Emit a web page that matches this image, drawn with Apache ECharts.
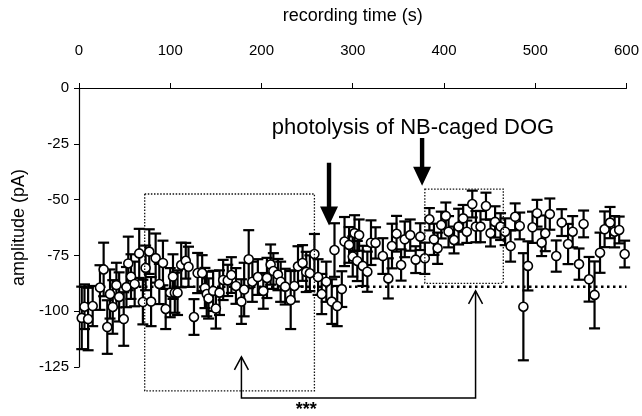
<!DOCTYPE html>
<html><head><meta charset="utf-8">
<script src="https://cdn.jsdelivr.net/npm/echarts@6/dist/echarts.min.js"></script>
<style>html,body{margin:0;padding:0;background:#fff}#c{width:642px;height:416px}</style>
</head><body><div id="c"></div>
<script>
const times = [3,6,10,15,23,27,31,34,37,41,44,49,52,54,57,61,66,70,73,77,79,84,88,92,95,100,103,105,108,112,117,120,126,130,135,138,140,142,147,150,154,158,163,167,172,178,181,186,190,196,202,206,210,213,218,221,226,232,236,240,245,249,253,258,262,266,271,277,280,283,288,291,296,300,302,305,307,311,316,320,325,333,339,343,348,353,357,363,369,374,379,384,389,393,397,402,405,411,416,421,425,431,435,440,446,451,456,462,467,473,478,483,487,492,497,502,507,511,516,523,529,536,541,548,553,559,565,571,576,582,587,592,598];
const amps = [-103,-98,-103.5,-97.7,-89.4,-81.3,-107.1,-92.3,-98.1,-88.3,-93.6,-103.5,-89.2,-78.6,-84.5,-87.8,-74.1,-95.9,-80.6,-73.3,
-95.7,-76.2,-87.8,-78.4,-99,-91.7,-84.5,-91.7,-91.7,-79.3,-77.4,-80.1,-102.6,-82.9,-82.9,-89.6,-92.3,-94.3,-90.9,-98.8,
-91.7,-86,-86.2,-83.8,-88.7,-95.7,-90.3,-76.7,-86.8,-84.7,-90.9,-85.1,-79.1,-82,-83.6,-86.8,-89,-95,-88.7,-79.9,
-78.4,-82.4,-83,-74.4,-84.7,-92.3,-86.8,-95.7,-72.6,-97.7,-90.1,-68.8,-70.3,-75.5,-65,-77.5,-65.9,-79.7,-82.3,-69.3,
-69.4,-75.3,-85.3,-70.8,-65.3,-79.3,-67.8,-65.9,-76.9,-66.6,-76.3,-58.8,-67.8,-71.8,-61.4,-57.3,-64.4,-68.1,-62.1,-58.4,
-64.4,-52,-62.1,-62.1,-52.9,-65,-60,-62.1,-64.4,-70.8,-57.7,-61.8,-98,-79.7,-62.4,-56.1,-69.3,-65.1,-56.5,-75.3,
-60.3,-69.9,-64.4,-78.9,-60.9,-85.7,-92.7,-73.8,-63.3,-60.3,-64.4,-63.6,-74.4];
const errs = [14,10,14,9,10,12,12,11,12,10,11,12,9,12,10,10,11,10,10,10,
11,11,9,10,9,11,10,9,10,10,8,9,8,9,8,9,10,9,9,9,
10,9,7,8,8,10,12,13,9,8,8,9,9,8,7,9,8,13,7,9,
8,9,8,9,8,9,9,10,12,9,8,11,8,9,8,9,7,9,9,10,
7,8,9,10,8,7,8,7,6,6,7,5,7,7,6,6,7,6,8,6,
5,6,7,7,6,6,7,6,6,7,6,6,24,11,7,6,6,8,7,7,
6,9,7,7,6,10,15,9,8,7,7,6,6];
const xTickValues = [0,100,200,300,400,500,600];
const yTickValues = [0,-25,-50,-75,-100,-125];
const baselineLevel = -89;

const FONT = '"Liberation Sans", Arial, Helvetica, sans-serif';
const chart = echarts.init(document.getElementById('c'), null, {renderer:'canvas'});
const pts = times.map((t,i)=>[t, amps[i], errs[i]]);

chart.setOption({
  animation:false,
  backgroundColor:'#fff',
  grid:{left:79, right:14, top:88, bottom:49},
  xAxis:{type:'value', position:'top', min:xTickValues[0], max:xTickValues[xTickValues.length-1], interval:100,
    axisLine:{onZero:false, lineStyle:{color:'#000', width:1.2}},
    axisTick:{show:true, length:5, lineStyle:{color:'#000'}},
    axisLabel:{color:'#000', fontSize:15, margin:30, fontFamily:FONT},
    splitLine:{show:false}, splitArea:{show:false}, minorTick:{show:false}, minorSplitLine:{show:false},
    name:'recording time (s)', nameLocation:'middle', nameGap:63,
    nameTextStyle:{color:'#000', fontSize:18, fontFamily:FONT}},
  yAxis:{type:'value', min:yTickValues[yTickValues.length-1], max:yTickValues[0], interval:25,
    axisLine:{show:true, onZero:false, lineStyle:{color:'#000', width:1.2}},
    axisTick:{show:true, length:5, lineStyle:{color:'#000'}},
    axisLabel:{color:'#000', fontSize:15, margin:10, fontFamily:FONT},
    splitLine:{show:false}, splitArea:{show:false},
    name:'amplitude (pA)', nameLocation:'middle', nameGap:47, nameRotate:90,
    nameTextStyle:{color:'#000', fontSize:18, fontFamily:FONT}},
  series:[
    {type:'line', data:[[xTickValues[0], baselineLevel],[xTickValues[xTickValues.length-1], baselineLevel]],
      symbol:'none', silent:true, z:1,
      lineStyle:{color:'#000', width:2.5, type:[2.5,3.5]}},
    {type:'custom', z:2, clip:false, data:pts,
      renderItem:function(params, api){
        const x=api.value(0), y=api.value(1), e=api.value(2);
        const top=api.coord([x,y+e]), bot=api.coord([x,y-e]);
        const w=5.5;
        const st={stroke:'#000', lineWidth:2.2};
        return {type:'group', children:[
          {type:'line', shape:{x1:top[0],y1:top[1],x2:bot[0],y2:bot[1]}, style:st},
          {type:'line', shape:{x1:top[0]-w,y1:top[1],x2:top[0]+w,y2:top[1]}, style:st},
          {type:'line', shape:{x1:bot[0]-w,y1:bot[1],x2:bot[0]+w,y2:bot[1]}, style:st}
        ]};
      }},
    {type:'scatter', z:3, data:pts.map(p=>[p[0],p[1]]), symbol:'circle', symbolSize:9,
      itemStyle:{color:'#fff', borderColor:'#000', borderWidth:1.6, opacity:1}}
  ]
});

function P(t,v){ return chart.convertToPixel({gridIndex:0},[t,v]); }
function rectG(t1,t2,v1,v2){
  const a=P(t1,v1), b=P(t2,v2);
  return {type:'rect', shape:{x:Math.min(a[0],b[0]), y:Math.min(a[1],b[1]), width:Math.abs(b[0]-a[0]), height:Math.abs(b[1]-a[1])},
    style:{fill:'none', stroke:'#111', lineWidth:1.3, lineDash:[1.5,1.6]}, z:10};
}
function boldArrow(t,vTop,vTip){
  const a=P(t,vTop), b=P(t,vTip);
  const hh=19, hw=9, sw=2.2;
  return {type:'polygon', shape:{points:[[a[0]-sw,a[1]],[a[0]+sw,a[1]],[a[0]+sw,b[1]-hh],[a[0]+hw,b[1]-hh],[a[0],b[1]],[a[0]-hw,b[1]-hh],[a[0]-sw,b[1]-hh]]},
    style:{fill:'#000'}, z:10};
}
const c1=P(178,-120.5), c2=P(178,-138.9), c3=P(434.6,-138.9), c4=P(434.6,-90.9);
const ls={stroke:'#000', lineWidth:1.5, fill:'none'};
const txt=P(366,-18);
const stars=P(249,-144.5);
chart.setOption({graphic:[
  rectG(72,258,-47.5,-135.7),
  rectG(379,465,-45.3,-87.5),
  boldArrow(274,-33.5,-61.6),
  boldArrow(376,-22.4,-43.8),
  {type:'polyline', shape:{points:[c1,c2,c3,c4]}, style:ls, z:10},
  {type:'polyline', shape:{points:[[c1[0]-7,c1[1]+13],c1,[c1[0]+7,c1[1]+13]]}, style:ls, z:10},
  {type:'polyline', shape:{points:[[c4[0]-7,c4[1]+13],c4,[c4[0]+7,c4[1]+13]]}, style:ls, z:10},
  {type:'text', x:txt[0], y:txt[1], style:{text:'photolysis of NB-caged DOG', fill:'#000', font:'22px '+FONT, align:'center', verticalAlign:'middle'}, z:10},
  {type:'text', x:stars[0], y:stars[1], style:{text:'***', fill:'#000', font:'bold 18px '+FONT, align:'center', verticalAlign:'middle'}, z:10}
]});
</script>
</body></html>
